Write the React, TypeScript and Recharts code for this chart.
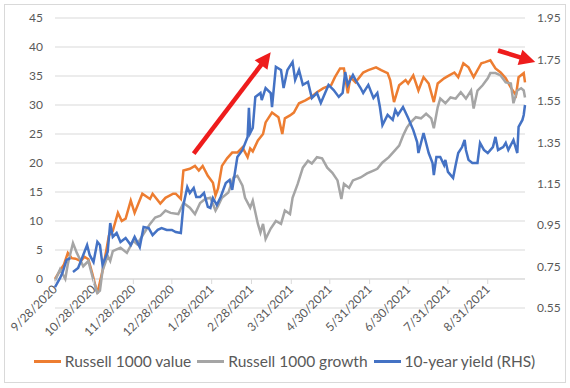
import React from 'react';
import {
  LineChart,
  Line,
  XAxis,
  YAxis,
  CartesianGrid,
  Legend,
  ReferenceLine,
} from 'recharts';

// x values are calendar days counted from 9/28/2020
const tickDates = [
  '9/28/2020',
  '10/28/2020',
  '11/28/2020',
  '12/28/2020',
  '1/28/2021',
  '2/28/2021',
  '3/31/2021',
  '4/30/2021',
  '5/31/2021',
  '6/30/2021',
  '7/31/2021',
  '8/31/2021',
];

const leftTicks = [-5, 0, 5, 10, 15, 20, 25, 30, 35, 40, 45];
const rightTicks = [0.55, 0.75, 0.95, 1.15, 1.35, 1.55, 1.75, 1.95];

// Russell 1000 value (left axis)
const valueDays = [
  0, 4, 7, 10, 13, 16, 20, 23, 26, 29, 33, 35, 37, 40, 42, 45, 49, 52, 55, 59,
  62, 68, 74, 76, 82, 86, 92, 94, 98, 100, 105, 109, 112, 115, 119, 123, 125, 127, 130, 134,
  138, 142, 146, 150, 152, 154, 158, 162, 164, 169, 174, 177, 179, 183, 186, 190, 195, 199, 204, 209,
  215, 218, 222, 225, 228, 230, 234, 240, 244, 250, 254, 259, 261, 264, 268, 273, 275, 279, 283, 287,
  291, 295, 298, 303, 307, 311, 314, 318, 322, 326, 332, 335, 339, 343, 347, 351, 355, 359, 361, 365, 366,
];
const valueLevels = [
  0, 1.5, 2.5, 4.5, 3.6, 3.5, 3.1, 3.8, 3.4, 1, -2.5, -0.5, 1.4, 5, 7.5, 8.3, 11.4, 10, 10.4, 13.5,
  11.4, 14.7, 13.8, 14.7, 13, 14, 14.7, 14.7, 13.8, 18.7, 19, 19.5, 18.7, 19.5, 17.8, 16.6, 14.4, 15.6, 19.5, 20.8,
  21.8, 21.8, 22.7, 21, 22.5, 22, 23.9, 25, 27, 28.7, 27.9, 25, 27.7, 28.2, 28.7, 30.3, 30.8, 31.3, 32.2, 32.9,
  33.4, 34.8, 36.3, 36.3, 32, 34.8, 33.9, 35.6, 36, 36.5, 36, 35.5, 34.3, 30.5, 33.4, 34.3, 33.7, 35.1, 32.5, 34.8,
  33.7, 30.5, 33.7, 34.6, 35.1, 35.6, 34.8, 37.2, 36.5, 34.8, 37.2, 37.4, 37.7, 36.3, 35.6, 34.6, 33, 31.7, 34.8, 35.5, 33.9,
];

// Russell 1000 growth (left axis)
const growthDays = [
  0, 4, 8, 10, 14, 17, 22, 26, 30, 33, 35, 37, 41, 43, 45, 51, 56, 61, 64, 69,
  74, 78, 82, 86, 90, 96, 100, 105, 109, 113, 117, 121, 125, 127, 130, 135, 139, 142, 146, 148,
  152, 154, 158, 160, 162, 164, 168, 172, 176, 179, 183, 185, 189, 193, 197, 200, 204, 208, 212, 216,
  220, 223, 225, 229, 232, 238, 243, 248, 251, 255, 260, 264, 268, 271, 274, 277, 281, 285, 289, 293,
  295, 298, 300, 304, 308, 312, 316, 320, 324, 326, 329, 333, 337, 339, 343, 347, 351, 355, 357, 360,
  363, 365, 366,
];
const growthLevels = [
  -0.3, 1.7, 0, 2.6, 6.2, 4.5, 2.2, 3.1, -0.3, -2.4, -2, 1.4, 4, 3.1, 4.8, 5.4, 4.5, 6.6, 6, 7.8,
  9.5, 10.6, 10.9, 11.8, 11.4, 11.2, 13.1, 12.3, 11.2, 13.1, 13.8, 14, 11.8, 12.6, 14, 14.9, 17.5, 17.8, 16.1, 14,
  12.3, 13.5, 9.5, 8, 9.5, 6.9, 8.7, 10, 9.5, 11.8, 11.2, 14, 16.4, 19.2, 20.4, 19.9, 21, 20.8, 19.2, 18.3,
  17, 13.8, 16.4, 15.7, 17, 17.5, 18.2, 18.7, 19, 20.1, 21, 22, 23, 24.7, 26.1, 27, 27.9, 27.7, 28.5, 27.7,
  26, 29.6, 31.1, 30.3, 31.3, 31.1, 32.2, 31.1, 32.5, 29.4, 32.5, 33.4, 34.6, 35.5, 35.5, 35.1, 33.9, 33.7, 30.3, 32.5,
  32.9, 32.5, 31.3,
];

// 10-year yield (right axis), null = missing day
const yieldDays = [
  0, 4, 6, 9, 12, 13, 14, 18, 22, 25, 27, 30, 33, 35, 37, 41, 43, 45, 48, 51,
  55, 59, 62, 66, 69, 73, 76, 80, 83, 87, 91, 94, 98, 100, 103, 105, 108, 110, 113, 116,
  119, 121, 123, 126, 129, 133, 136, 138, 142, 146, 150, 151, 152, 154, 156, 160, 161, 164, 168, 169,
  172, 176, 178, 181, 185, 187, 190, 193, 197, 200, 204, 207, 209, 213, 217, 221, 224, 226, 228, 232,
  234, 238, 240, 244, 248, 251, 253, 255, 259, 263, 265, 267, 271, 275, 279, 282, 283, 287, 291, 294,
  295, 297, 300, 303, 304, 306, 310, 312, 314, 317, 319, 320, 322, 325, 329, 331, 334, 337, 341, 343,
  345, 349, 351, 353, 357, 360, 361, 364, 365, 366,
];
const yieldLevels = [
  0.651, 0.695, 0.724, 0.782, 0.791, null, 0.724, 0.743, 0.806, 0.854, 0.806, 0.772, 0.869, 0.854, 0.758, 0.82, 0.96, 0.893, 0.912, 0.869,
  0.888, 0.854, 0.893, 0.844, 0.941, 0.936, 0.902, 0.927, 0.936, 0.927, 0.927, 0.917, 0.912, 1.047, 1.134, 1.105, 1.129, 1.086, 1.086, 1.105,
  1.038, 1.033, 1.081, 1.047, 1.086, 1.153, 1.168, 1.12, 1.279, 1.313, 1.376, 1.516, 1.395, 1.419, 1.569, 1.588, 1.554, 1.612, 1.588, 1.52,
  1.714, 1.699, 1.612, 1.699, 1.738, 1.651, 1.699, 1.627, 1.641, 1.564, 1.588, 1.54, 1.569, 1.627, 1.602, 1.569, 1.588, 1.689, 1.627, 1.675,
  1.651, 1.612, 1.588, 1.627, 1.564, 1.588, 1.52, 1.433, 1.482, 1.458, 1.506, 1.482, 1.52, 1.467, 1.409, 1.351, 1.298, 1.395, 1.298, 1.25,
  1.192, 1.279, 1.279, 1.24, 1.265, 1.207, 1.178, 1.24, 1.298, 1.327, 1.361, 1.313, 1.265, 1.25, 1.25, 1.347, 1.313, 1.298, 1.327, 1.376,
  1.313, 1.327, 1.347, 1.313, 1.361, 1.298, 1.424, 1.458, 1.482, 1.53,
];

// red annotation arrows, [tail, tip] in (day, left-axis value)
const arrows = [
  [{ x: 108, y: 21.6 }, { x: 168, y: 39.1 }],
  [{ x: 345, y: 39.4 }, { x: 374, y: 37.4 }],
];

const start = new Date(2020, 8, 28).getTime();
const dayOf = (s: string) => {
  const [m, d, y] = s.split('/').map(Number);
  return Math.round((new Date(y, m - 1, d).getTime() - start) / 86400000);
};
const tickDays = tickDates.map(dayOf);
const labelByDay: Record<number, string> = {};
tickDays.forEach((d, i) => (labelByDay[d] = tickDates[i]));

const zip = (days: number[], vals: (number | null)[]) =>
  days.map((d, i) => ({ d, v: vals[i] }));

const series = [
  { name: 'Russell 1000 value', color: '#ED7D31', axis: 'left', data: zip(valueDays, valueLevels) },
  { name: 'Russell 1000 growth', color: '#A5A5A5', axis: 'left', data: zip(growthDays, growthLevels) },
  { name: '10-year yield (RHS)', color: '#4472C4', axis: 'right', data: zip(yieldDays, yieldLevels) },
];

const TEXT = '#595959';
const GRID = '#d9d9d9';
const PLOT_H = 290;
// the date axis crosses at 0, one grid band above the plot floor (-5)
const ZERO_SHIFT = PLOT_H / 10;

const DateTick = (props: any) => {
  const { x, y, payload } = props;
  const y0 = y - ZERO_SHIFT;
  const tx = x + 3;
  const ty = y0 + 11;
  return (
    <g>
      <line x1={x} x2={x} y1={y0} y2={y0 + 5} stroke={GRID} />
      <text
        x={tx}
        y={ty}
        transform={`rotate(-45 ${tx} ${ty})`}
        textAnchor="end"
        fill={TEXT}
        fontSize={12}
      >
        {labelByDay[payload.value]}
      </text>
    </g>
  );
};

const Arrow = (p: any) => {
  const { x1, y1, x2, y2 } = p;
  const dx = x2 - x1;
  const dy = y2 - y1;
  const len = Math.sqrt(dx * dx + dy * dy) || 1;
  const ux = dx / len;
  const uy = dy / len;
  const head = 16;
  const half = 8;
  const bx = x2 - ux * head;
  const by = y2 - uy * head;
  const pts = [
    `${x2},${y2}`,
    `${bx - uy * half},${by + ux * half}`,
    `${bx + uy * half},${by - ux * half}`,
  ].join(' ');
  return (
    <g>
      <line x1={x1} y1={y1} x2={bx + ux * 2} y2={by + uy * 2} stroke="#EE1C1C" strokeWidth={4.5} />
      <polygon points={pts} fill="#EE1C1C" />
    </g>
  );
};

const LegendRow = () => (
  <div
    style={{
      display: 'flex',
      justifyContent: 'center',
      alignItems: 'center',
      height: 30,
    }}
  >
    {series.map((s) => (
      <div key={s.name} style={{ display: 'flex', alignItems: 'center', marginRight: 6 }}>
        <span
          style={{ display: 'inline-block', width: 27, height: 3, background: s.color, marginRight: 4 }}
        />
        <span style={{ fontSize: 15.5, color: TEXT }}>{s.name}</span>
      </div>
    ))}
  </div>
);

export default function App() {
  return (
    <div
      style={{
        position: 'absolute',
        left: 0,
        top: 0,
        width: 570,
        height: 388,
        background: '#fff',
        fontFamily: 'Lato, "Open Sans", sans-serif',
      }}
    >
      <div style={{ position: 'absolute', left: 4, top: 4 }}>
        <LineChart width={562} height={379} margin={{ top: 14, right: 1, bottom: 7, left: 6 }}>
          <CartesianGrid yAxisId="left" vertical={false} stroke={GRID} />
          <XAxis
            type="number"
            dataKey="d"
            domain={[0, 366]}
            ticks={tickDays}
            interval={0}
            height={38}
            axisLine={false}
            tickLine={false}
            tickSize={0}
            tickMargin={0}
            tick={<DateTick />}
          />
          <YAxis
            yAxisId="left"
            domain={[-5, 45]}
            ticks={leftTicks}
            interval={0}
            width={45}
            axisLine={false}
            tickLine={false}
            tickSize={0}
            tickMargin={12}
            tick={{ fill: TEXT, fontSize: 12 }}
            tickFormatter={(v: number) => (v === -5 ? '' : String(v))}
          />
          <YAxis
            yAxisId="right"
            orientation="right"
            domain={[0.55, 1.95]}
            ticks={rightTicks}
            interval={0}
            width={40}
            axisLine={false}
            tickLine={false}
            tickSize={0}
            tickMargin={12}
            tick={{ fill: TEXT, fontSize: 12 }}
            tickFormatter={(v: number) => v.toFixed(2)}
          />
          <ReferenceLine yAxisId="left" y={0} stroke={GRID} />
          {series.map((s) => (
            <Line
              key={s.name}
              yAxisId={s.axis}
              data={s.data}
              dataKey="v"
              name={s.name}
              type="linear"
              stroke={s.color}
              strokeWidth={2.5}
              dot={false}
              isAnimationActive={false}
            />
          ))}
          {arrows.map((seg, i) => (
            <ReferenceLine
              key={i}
              yAxisId="left"
              segment={seg}
              ifOverflow="visible"
              shape={Arrow}
            />
          ))}
          <Legend verticalAlign="bottom" content={LegendRow} wrapperStyle={{ height: 30 }} />
        </LineChart>
      </div>
      <div
        style={{
          position: 'absolute',
          left: 4,
          top: 4,
          width: 562,
          height: 379,
          boxSizing: 'border-box',
          border: `1px solid ${GRID}`,
          pointerEvents: 'none',
        }}
      />
    </div>
  );
}
